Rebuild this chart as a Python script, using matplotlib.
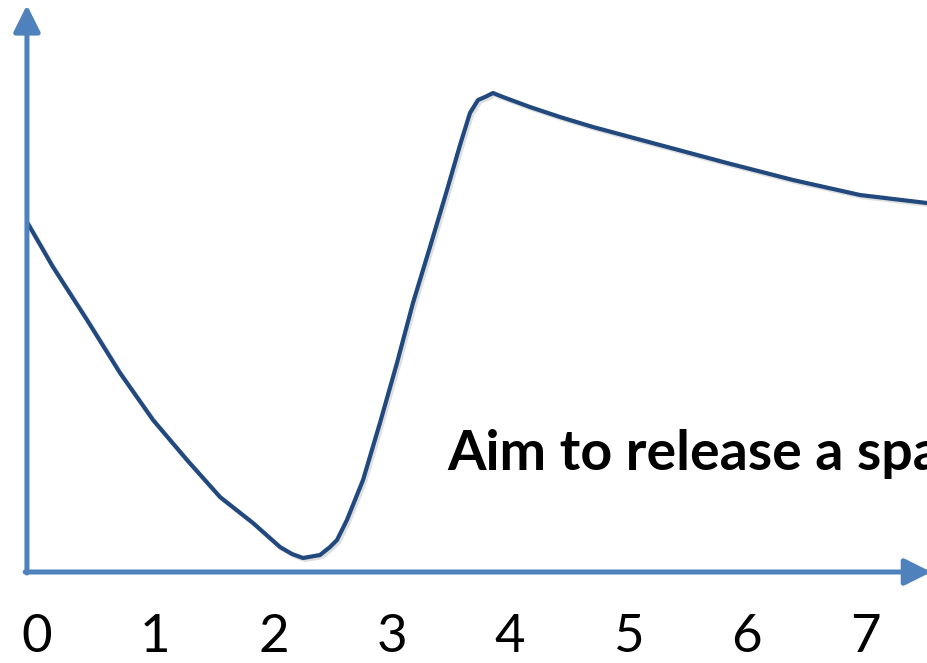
import matplotlib.pyplot as plt
import matplotlib.patheffects as pe

# curve (x in tick units, y in arbitrary height units)
curve_x = [-0.085, 0.135, 0.423, 0.702, 0.981, 1.268, 1.547, 1.826, 2.054, 2.156,
           2.249, 2.392, 2.477, 2.536, 2.620, 2.756, 2.899, 3.043, 3.178, 3.322,
           3.466, 3.576, 3.660, 3.728, 3.787, 3.855, 3.939, 4.167, 4.421, 4.700,
           5.266, 5.833, 6.391, 6.957, 7.523]
curve_y = [3.49, 3.04, 2.51, 1.98, 1.51, 1.11, 0.74, 0.48, 0.24, 0.17,
           0.13, 0.16, 0.24, 0.31, 0.51, 0.91, 1.48, 2.08, 2.68, 3.24,
           3.81, 4.26, 4.58, 4.71, 4.74, 4.78, 4.74, 4.64, 4.54, 4.44,
           4.26, 4.08, 3.91, 3.76, 3.68]

tick_values = [0, 1, 2, 3, 4, 5, 6, 7]
tick_labels = ['0', '1', '2', '3', '4', '5', '6', '7']
note = 'Aim to release a spa'

AXIS_COLOR = '#4F81BD'
CURVE_COLOR = '#22497E'

fig = plt.figure(figsize=(9.28, 6.63), dpi=100)
ax = fig.add_axes([0, 0, 1, 1])
ax.set_xlim(-0.3128, 7.532)
ax.set_ylim(-0.92, 5.71)
ax.axis('off')

shadow = [pe.SimpleLineShadow(offset=(1.5, -1.5), shadow_color='gray', alpha=0.25), pe.Normal()]

# axes with arrowheads (the x arrow runs off the right edge, as in the original)
x0 = -0.085
arrow = dict(arrowstyle='-|>,head_length=0.9,head_width=0.45', lw=3.6,
             color=AXIS_COLOR, shrinkA=0, shrinkB=0, mutation_scale=18)
ax.annotate('', xy=(x0, 5.66), xytext=(x0, -0.02), arrowprops=arrow,
            annotation_clip=False)
ax.annotate('', xy=(7.56, -0.01), xytext=(x0 - 0.015, -0.01), arrowprops=arrow,
            annotation_clip=False)

ax.plot(curve_x, curve_y, color=CURVE_COLOR, lw=3.0, solid_joinstyle='round',
        solid_capstyle='round', path_effects=shadow)

for v, lab in zip(tick_values, tick_labels):
    ax.text(v, -0.67, lab, fontsize=38, family='Lato', ha='center', va='center')

ax.text(3.466, 1.17, note, fontsize=40, family='Lato', fontweight='bold',
        ha='left', va='center')

fig.savefig('out.png', dpi=100)
